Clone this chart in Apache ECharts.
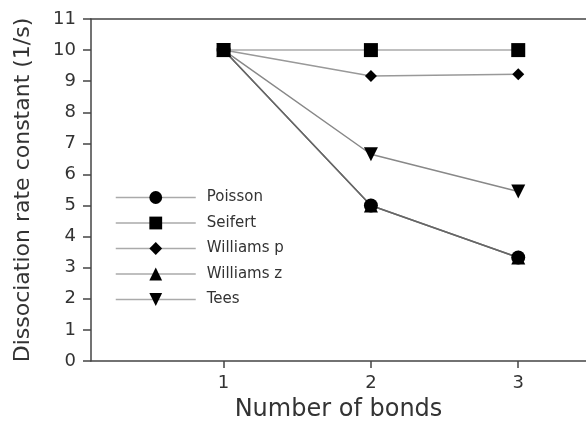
<!DOCTYPE html>
<html>
<head>
<meta charset="utf-8">
<script src="https://cdn.jsdelivr.net/npm/echarts@6/dist/echarts.min.js"></script>
<style>
  html, body { margin: 0; padding: 0; background: #fff; }
  #grafico { width: 586px; height: 434px; }
</style>
</head>
<body>
<div id="grafico"></div>
<script>
// Dados
var ligacoes = [1, 2, 3];
var poisson = [10, 5.0, 3.33];
var seifert = [10, 10, 10];
var williamsP = [10, 9.17, 9.22];
var williamsZ = [10, 5.0, 3.33];
var tees = [10, 6.65, 5.45];
var yTicks = [0, 1, 2, 3, 4, 5, 6, 7, 8, 9, 10, 11];

var fonte = 'DejaVu Sans';

function pares(valores) {
    return ligacoes.map(function (x, i) { return [x, valores[i]]; });
}

function serie(nome, valores, cor, simbolo, tamanho, rotacao) {
    return {
        name: nome,
        type: 'line',
        data: pares(valores),
        symbol: simbolo,
        symbolSize: tamanho,
        symbolRotate: rotacao || 0,
        lineStyle: { color: cor, width: 1.5 },
        itemStyle: { color: '#000', borderWidth: 0 },
        color: cor,
        animation: false
    };
}

var chartDom = document.getElementById('grafico');
var myChart = echarts.init(chartDom);
var option = {
    backgroundColor: '#fff',
    textStyle: { fontFamily: fonte },
    grid: { left: 91, right: 0, top: 19, bottom: 73 },
    legend: {
        orient: 'vertical',
        left: 110,
        top: 185,
        itemWidth: 80,
        itemHeight: 16,
        itemGap: 10.5,
        lineStyle: { color: '#aaa', width: 1.5 },
        textStyle: { fontFamily: fonte, fontSize: 15, color: '#333', padding: [0, 0, 0, 6] },
        data: ['Poisson', 'Seifert', 'Williams p', 'Williams z', 'Tees']
    },
    xAxis: [
        {
            type: 'value',
            min: 0.1,
            max: 3.46,
            name: 'Number of bonds',
            nameLocation: 'middle',
            nameGap: 37,
            nameTextStyle: { fontFamily: fonte, fontSize: 24, color: '#333' },
            axisLine: { show: true, lineStyle: { color: '#444', width: 1.5 } },
            axisTick: { show: true, customValues: ligacoes, length: 7, lineStyle: { color: '#444', width: 1.5 } },
            axisLabel: { customValues: ligacoes, fontSize: 18, color: '#333', margin: 13, fontFamily: fonte },
            splitLine: { show: false }
        },
        {
            type: 'value',
            position: 'top',
            min: 0.1,
            max: 3.46,
            axisLine: { show: true, lineStyle: { color: '#444', width: 1.5 } },
            axisTick: { show: false },
            axisLabel: { show: false },
            splitLine: { show: false }
        }
    ],
    yAxis: {
        type: 'value',
        min: 0,
        max: 11,
        interval: 1,
        name: 'Dissociation rate constant (1/s)',
        nameLocation: 'middle',
        nameGap: 57,
        nameTextStyle: { fontFamily: fonte, fontSize: 22, color: '#333' },
        axisLine: { show: true, lineStyle: { color: '#444', width: 1.5 } },
        axisTick: { show: true, length: 8, lineStyle: { color: '#444', width: 1.5 } },
        axisLabel: {
            fontSize: 18, color: '#333', margin: 15, fontFamily: fonte,
            formatter: function (v) { return yTicks.indexOf(v) >= 0 ? String(v) : ''; }
        },
        splitLine: { show: false }
    },
    series: [
        serie('Williams z', williamsZ, '#777', 'triangle', 14),
        serie('Poisson', poisson, '#666', 'circle', 14),
        serie('Tees', tees, '#888', 'triangle', 14, 180),
        serie('Williams p', williamsP, '#999', 'diamond', [12, 12]),
        serie('Seifert', seifert, '#aaa', 'rect', 14)
    ]
};

option && myChart.setOption(option);
</script>
</body>
</html>
